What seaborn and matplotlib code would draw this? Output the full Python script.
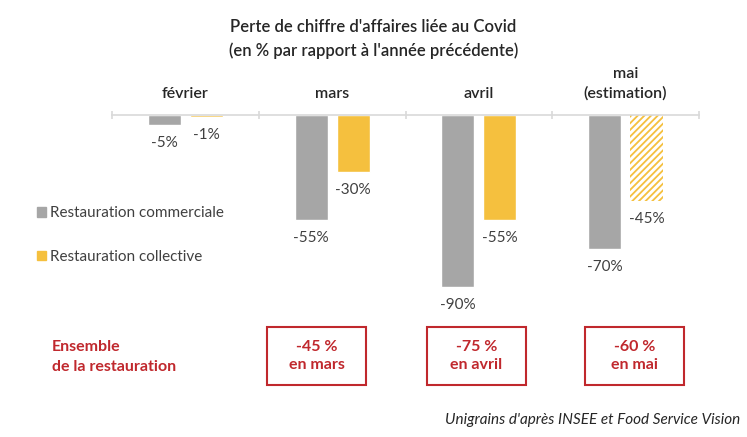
import matplotlib
matplotlib.use("Agg")
import matplotlib.pyplot as plt
import seaborn as sns
import pandas as pd
from matplotlib.patches import Rectangle, Patch

# data
months = ["février", "mars", "avril", "mai\n(estimation)"]
commerciale = [-5, -55, -90, -70]
collective = [-1, -30, -55, -45]
series = ["Restauration commerciale", "Restauration collective"]
ensemble = ["-45 %", "-75 %", "-60 %"]
ensemble_months = ["en mars", "en avril", "en mai"]

GRAY = "#A6A6A6"
YELLOW = "#F5C03E"
RED = "#C0282D"
TXT = "#404040"

df = pd.DataFrame({
    "mois": months * 2,
    "serie": [series[0]] * 4 + [series[1]] * 4,
    "valeur": commerciale + collective,
})

sns.set_style("white")
plt.rcParams["font.family"] = ["Lato", "DejaVu Sans"]
plt.rcParams["hatch.linewidth"] = 1.3

W, H = 747, 437
fig = plt.figure(figsize=(W / 100, H / 100), dpi=100)

def fx(x):
    return x / W

def fy(y):
    return 1 - y / H

# axes: zero line at y=115, -100 at y=306
ax = fig.add_axes([fx(112), fy(306), fx(699) - fx(112), fy(115) - fy(306)])
sns.barplot(data=df, x="mois", y="valeur", hue="serie", order=months,
            palette=[GRAY, YELLOW], width=0.57, gap=0.21, ax=ax,
            legend=False, saturation=1)
ax.set_xlim(-0.5, 3.5)
ax.set_ylim(-100, 0)

# hatched estimate for mai (collective)
est = ax.containers[1].patches[3]
est.set_facecolor("white")
est.set_edgecolor(YELLOW)
est.set_hatch("/////")
est.set_linewidth(0)

for cont, vals in zip(ax.containers, [commerciale, collective]):
    ax.bar_label(cont, labels=[f"{v}%" for v in vals], padding=8,
                 fontsize=11, color=TXT)

for s in ["left", "right", "bottom"]:
    ax.spines[s].set_visible(False)
ax.spines["top"].set_color("#D9D9D9")
ax.spines["top"].set_linewidth(1.2)
ax.set_xticks([-0.5, 0.5, 1.5, 2.5, 3.5])
ax.tick_params(axis="x", top=True, bottom=False, labeltop=False,
               labelbottom=False, direction="inout", length=6,
               color="#D9D9D9", width=1.2)
ax.set_yticks([])
ax.set_xlabel("")
ax.set_ylabel("")

for i, m in enumerate(months):
    ax.text(i, 1.0 + 14 / (306 - 115), m, transform=ax.get_xaxis_transform(),
            ha="center", va="bottom", fontsize=11.5, fontweight="semibold",
            color="#262626", linespacing=1.45)

fig.text(0.5, fy(39), "Perte de chiffre d'affaires liée au Covid\n(en % par rapport à l'année précédente)",
         ha="center", va="center", fontsize=12, fontweight="semibold",
         color="#262626", linespacing=1.5)

handles = [Patch(color=GRAY), Patch(color=YELLOW)]
fig.legend(handles, series, loc="center left",
           bbox_to_anchor=(fx(23), fy(235)), frameon=False, fontsize=11,
           handlelength=0.62, handleheight=0.62, handletextpad=0.25,
           labelspacing=1.95, labelcolor=TXT)

fig.text(fx(52), fy(357), "Ensemble\nde la restauration", ha="left",
         va="center", fontsize=11.5, fontweight="bold", color=RED,
         linespacing=1.5)

box_x = [267, 427, 585]
for bx, val, mo in zip(box_x, ensemble, ensemble_months):
    fig.patches.append(Rectangle((fx(bx), fy(385)), fx(99), fy(327) - fy(385),
                                 transform=fig.transFigure, fill=False,
                                 edgecolor=RED, linewidth=1.5))
    fig.text(fx(bx + 49.5), fy(356), f"{val}\n{mo}", ha="center", va="center",
             fontsize=11.5, fontweight="bold", color=RED, linespacing=1.45)

fig.text(fx(740), fy(420), "Unigrains d'après INSEE et Food Service Vision",
         ha="right", va="center", fontsize=11, style="italic", color="#262626")

fig.savefig("out.png", dpi=100)
